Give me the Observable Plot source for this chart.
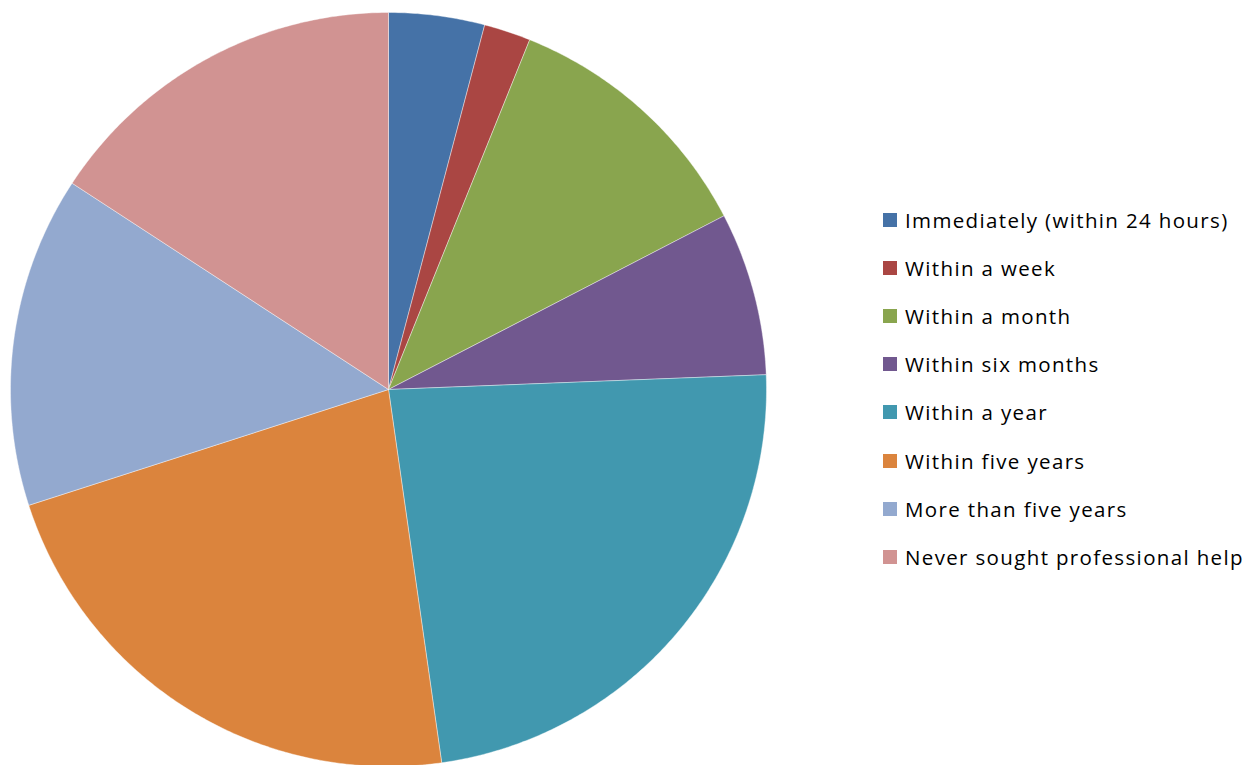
<!DOCTYPE html>
<html>
<head>
<meta charset="utf-8">
<script src="https://cdn.jsdelivr.net/npm/d3@7"></script>
<script src="https://cdn.jsdelivr.net/npm/@observablehq/plot@0.6"></script>
<style>
  html, body { margin: 0; padding: 0; background: #fff; }
  #wrap { position: relative; width: 1252px; height: 765px; overflow: hidden; }
  #legend { position: absolute; left: 883px; top: 0; font-family: "Open Sans", Lato, sans-serif; font-size: 20.5px; letter-spacing: 1.35px; color: #000; }
  .item { position: absolute; left: 0; white-space: nowrap; display: flex; align-items: center; height: 30px; }
  .sw { width: 14px; height: 14px; margin-right: 8px; flex: none; }
</style>
</head>
<body>
<div id="wrap"><div id="chart"></div><div id="legend"></div></div>
<script>
const categories = [
  "Immediately (within 24 hours)",
  "Within a week",
  "Within a month",
  "Within six months",
  "Within a year",
  "Within five years",
  "More than five years",
  "Never sought professional help"
];
const values = [4.1, 2.0, 11.3, 7.0, 23.4, 22.3, 14.2, 15.8];
const colors = ["#4572A7", "#AA4643", "#89A54E", "#71588F", "#4198AF", "#DB843D", "#93A9CF", "#D19392"];

const arcs = d3.pie().sort(null).value(d => d.value)(categories.map((c, i) => ({label: c, value: values[i]})));
const pts = [];
for (const a of arcs) {
  const lab = a.data.label;
  pts.push({label: lab, x: 0, y: 0});
  const n = Math.max(2, Math.ceil((a.endAngle - a.startAngle) / (Math.PI / 360)));
  for (let k = 0; k <= n; k++) {
    const t = a.startAngle + (a.endAngle - a.startAngle) * k / n;
    pts.push({label: lab, x: Math.sin(t), y: Math.cos(t)});
  }
  pts.push({label: lab, x: 0, y: 0});
}

const chart = Plot.plot({
  width: 1252,
  height: 765,
  margin: 0,
  x: {domain: [-1, 1], range: [10, 766], axis: null},
  y: {domain: [-1, 1], range: [766, 12], axis: null},
  color: {domain: categories, range: colors},
  marks: [
    Plot.line(pts, {x: "x", y: "y", z: "label", fill: "label", stroke: "white", strokeOpacity: 0.5, strokeWidth: 0.8, curve: "linear"})
  ]
});
document.getElementById("chart").appendChild(chart);

const legend = document.getElementById("legend");
categories.forEach((c, i) => {
  const it = document.createElement("div");
  it.className = "item";
  it.style.top = (219.5 + i * 48.2 - 15) + "px";
  const sw = document.createElement("span");
  sw.className = "sw";
  sw.style.background = colors[i];
  const tx = document.createElement("span");
  tx.textContent = c;
  it.appendChild(sw); it.appendChild(tx);
  legend.appendChild(it);
});
</script>
</body>
</html>
